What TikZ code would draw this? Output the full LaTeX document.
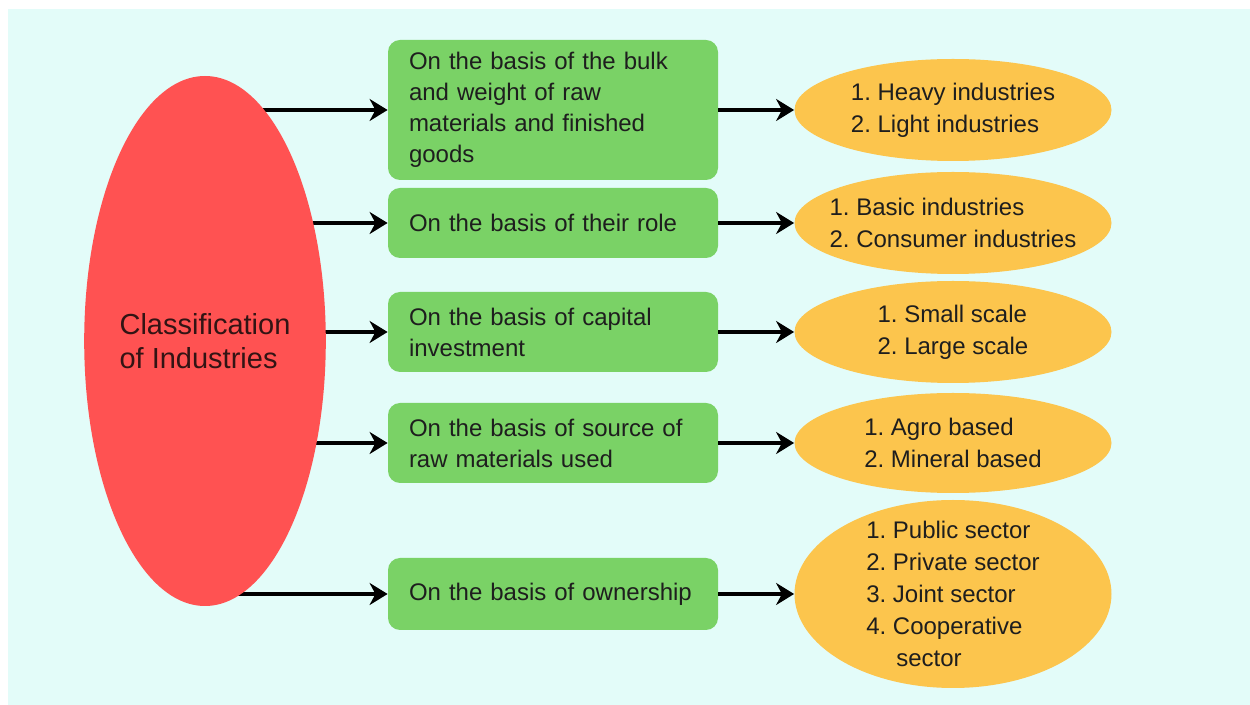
\documentclass[tikz,border=0pt]{standalone}
\usepackage{fontspec}
\setmainfont{Liberation Sans}
\usetikzlibrary{shapes.geometric,arrows.meta,backgrounds}

\definecolor{bgcyan}{RGB}{227,252,249}
\definecolor{redC}{RGB}{255,82,82}
\definecolor{greenC}{RGB}{122,210,102}
\definecolor{orangeC}{RGB}{252,197,77}
\definecolor{inkC}{RGB}{30,30,30}

\frenchspacing
\hyphenpenalty=10000

\tikzset{
  basis/.style={fill=greenC, rounded corners=6pt, minimum width=165pt, text width=144pt,
    inner xsep=10.5pt, align=left, font=\fontsize{12}{15.5}\selectfont, text=inkC},
  kind/.style={ellipse, fill=orangeC, minimum width=158.5pt, minimum height=#1, inner sep=0pt},
  kindtxt/.style={align=left, font=\fontsize{12}{16}\selectfont, text=inkC},
  link/.style={line width=1.6pt, -{Stealth[length=9pt,width=11pt]}},
}

\begin{document}
\begin{tikzpicture}[x=0.5pt,y=0.5pt,yscale=-1,xscale=1]
\useasboundingbox (0,0) rectangle (1250,705);

%Shape: Ellipse [classification]
\node (cls) [ellipse, fill=redC, minimum width=117pt, minimum height=265pt, inner sep=0pt,
  align=left, font=\fontsize{14.5}{17}\selectfont, text={rgb,255:red,50;green,20;blue,20}]
  at (205,341) {Classification\\of Industries};

%Shape: Rounded Rectangle [bases]
\node (b1) [basis, minimum height=70pt] at (553,110) {On the basis of the bulk\\and weight of raw\\materials and finished\\goods};
\node (b2) [basis, minimum height=35pt] at (553,223) {On the basis of their role};
\node (b3) [basis, minimum height=40pt] at (553,332) {On the basis of capital\\investment};
\node (b4) [basis, minimum height=40pt] at (553,443) {On the basis of source of\\raw materials used};
\node (b5) [basis, minimum height=36pt] at (553,594) {On the basis of ownership};

%Shape: Ellipse [kinds]
\node (c1) [kind=51pt] at (953,110) {};
\node (c2) [kind=51pt] at (953,223) {};
\node (c3) [kind=51pt] at (953,332) {};
\node (c4) [kind=50pt] at (953,443) {};
\node (c5) [kind=94pt] at (953,594) {};

% Text Node
\node (t1) [kindtxt] at (c1) {1. Heavy industries\\2. Light industries};
\node (t2) [kindtxt] at (c2) {1. Basic industries\\2. Consumer industries};
\node (t3) [kindtxt] at (c3) {1. Small scale\\2. Large scale};
\node (t4) [kindtxt] at (c4) {1. Agro based\\2. Mineral based};
\node (t5) [kindtxt] at (c5) {1. Public sector\\2. Private sector\\3. Joint sector\\4. Cooperative\\\hspace*{15pt}sector};

%Straight Lines [Arrow]
\foreach \i in {1,...,5}
  \draw [link] (b\i.east) -- (c\i.west);

\begin{scope}[on background layer]
\fill [bgcyan] (8,9) rectangle (1250,705);
\foreach \i in {1,...,5}
  \draw [link] (cls.center |- b\i.west) -- (b\i.west);
\end{scope}

\end{tikzpicture}
\end{document}
